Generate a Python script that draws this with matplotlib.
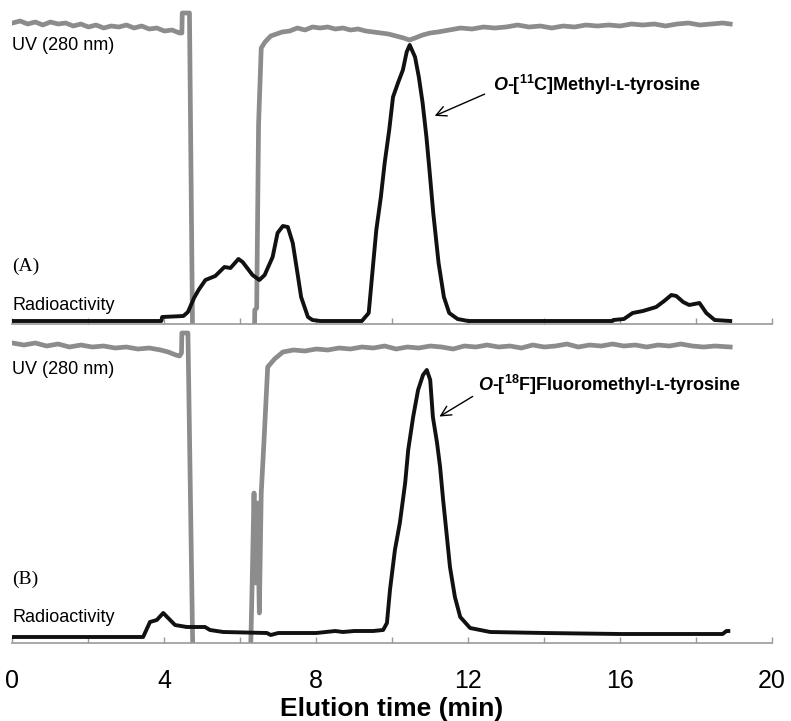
import matplotlib
matplotlib.use("Agg")
import matplotlib.pyplot as plt

plt.rcParams['font.family'] = ['Liberation Sans', 'DejaVu Sans']
plt.rcParams['mathtext.fontset'] = 'custom'
plt.rcParams['mathtext.rm'] = 'Liberation Sans:bold'
plt.rcParams['mathtext.it'] = 'Liberation Sans:bold:italic'
plt.rcParams['mathtext.bf'] = 'Liberation Sans:bold'

# (A) O-[11C]methyl-L-tyrosine run
a_uv_t = [0.0, 0.2, 0.4, 0.6, 0.8, 1.0, 1.2, 1.4, 1.6, 1.8, 2.0, 2.2, 2.4, 2.6, 2.8, 3.0,
          3.2, 3.4, 3.6, 3.8, 4.0, 4.2, 4.4, 4.46, 4.47, 4.66, 4.75,
          6.36, 6.38, 6.43, 6.48, 6.55, 6.65, 6.8, 6.95, 7.1, 7.3, 7.5, 7.7, 7.9, 8.1,
          8.3, 8.5, 8.7, 8.9, 9.1, 9.3, 9.5, 9.7, 9.9, 10.1, 10.3, 10.45, 10.6, 10.8,
          11.0, 11.2, 11.5, 11.8, 12.1, 12.4, 12.7, 13.0, 13.3, 13.6, 13.9, 14.2, 14.5,
          14.8, 15.1, 15.4, 15.7, 16.0, 16.3, 16.6, 16.9, 17.2, 17.5, 17.8, 18.1, 18.4,
          18.7, 18.9]
a_uv = [301, 303, 300, 302, 299, 302, 300, 301, 298, 300, 297, 299, 296, 298, 297, 299,
        296, 298, 295, 296, 293, 294, 291, 291, 311, 311, -40,
        -40, 14, 16, 200, 276, 282, 288, 290, 292, 293, 296, 294, 297, 296,
        297, 295, 296, 294, 295, 293, 292, 291, 290, 288, 286, 284, 286, 289,
        291, 292, 294, 296, 295, 297, 296, 297, 299, 297, 298, 296, 298,
        297, 299, 298, 299, 298, 300, 299, 300, 298, 300, 301, 299, 300,
        301, 300]

a_rad_t = [0.0, 3.92, 3.94, 4.5, 4.62, 4.78, 4.9, 5.08, 5.34, 5.58, 5.74, 5.95, 6.06,
           6.32, 6.5, 6.64, 6.85, 6.98, 7.12, 7.25, 7.38, 7.52, 7.6, 7.78, 7.9, 8.1,
           9.2, 9.38, 9.5, 9.58, 9.7, 9.8, 9.92, 10.02, 10.15, 10.28, 10.38, 10.46,
           10.6, 10.7, 10.8, 10.9, 10.98, 11.08, 11.22, 11.36, 11.5, 11.72, 12.0,
           15.8, 15.82, 16.1, 16.33, 16.6, 16.95, 17.16, 17.35, 17.48, 17.66, 17.82,
           18.09, 18.27, 18.49, 18.9]
a_rad = [3, 3, 7, 8, 12, 26, 34, 44, 48, 57, 56, 65, 62,
         49, 44, 49, 67, 91, 98, 97, 81, 47, 27, 7, 4, 3,
         3, 11, 61, 94, 127, 161, 194, 227, 241, 254, 272, 279,
         267, 247, 221, 187, 154, 111, 61, 27, 11, 5, 3,
         3, 4, 5, 11, 13, 17, 23, 29, 28, 22, 19,
         21, 11, 4, 3]

# (B) O-[18F]fluoromethyl-L-tyrosine run
b_uv_t = [0.0, 0.3, 0.6, 0.9, 1.2, 1.5, 1.8, 2.1, 2.4, 2.7, 3.0, 3.3, 3.6, 3.9, 4.1,
          4.3, 4.4, 4.45, 4.46, 4.62, 4.76,
          6.25, 6.3, 6.36, 6.4, 6.45, 6.5, 6.55, 6.62, 6.72, 6.9, 7.12, 7.4, 7.7, 8.0,
          8.3, 8.6, 8.9, 9.2, 9.5, 9.8, 10.1, 10.4, 10.7, 11.0, 11.3, 11.6, 11.9, 12.2,
          12.5, 12.8, 13.1, 13.4, 13.7, 14.0, 14.3, 14.6, 14.9, 15.2, 15.5, 15.8, 16.1,
          16.4, 16.7, 17.0, 17.3, 17.6, 17.9, 18.2, 18.5, 18.9]
b_uv = [300, 298, 300, 297, 299, 296, 298, 296, 297, 295, 296, 294, 295, 293, 291,
        288, 287, 290, 310, 310, -40,
        -40, 40, 150, 60, 140, 30, 150, 200, 276, 284, 291, 293, 292, 294,
        293, 295, 294, 296, 295, 297, 294, 296, 295, 297, 296, 294, 297, 296,
        298, 296, 297, 295, 298, 296, 297, 299, 296, 298, 297, 299, 297,
        298, 296, 298, 297, 299, 297, 296, 297, 296]

b_rad_t = [0.0, 3.44, 3.62, 3.8, 3.97, 4.15, 4.28, 4.59, 5.07, 5.2, 5.55, 6.7, 6.8, 7.0,
           8.0, 8.5, 8.7, 9.0, 9.5, 9.76, 9.86, 9.94, 10.07, 10.2, 10.34, 10.42, 10.55,
           10.68, 10.81, 10.91, 11.0, 11.07, 11.18, 11.26, 11.34, 11.44, 11.52, 11.65,
           11.79, 12.05, 12.58, 14.0, 16.0, 18.7, 18.8, 18.85]
b_rad = [6, 6, 21, 23, 30, 23, 18, 16, 16, 13, 11, 10, 8, 10,
         10, 12, 11, 12, 12, 13, 20, 53, 93, 120, 160, 193, 226,
         253, 268, 273, 263, 226, 200, 176, 143, 106, 76, 46,
         26, 15, 11, 10, 9, 9, 12, 12]

tick_pos = [0, 2, 4, 6, 8, 10, 12, 14, 16, 18, 20]
tick_lab = ['0', '', '4', '', '8', '', '12', '', '16', '', '20']

W, H = 791, 721
fig = plt.figure(figsize=(W / 100, H / 100), dpi=100)

uv_col = '#8c8c8c'
axis_col = '#9a9a9a'


def setup(ax, ymax, labels):
    ax.set_xlim(0, 20)
    ax.set_ylim(0, ymax)
    for s in ['top', 'left', 'right']:
        ax.spines[s].set_visible(False)
    ax.spines['bottom'].set_color(axis_col)
    ax.spines['bottom'].set_linewidth(1.2)
    ax.set_yticks([])
    ax.set_xticks(tick_pos)
    ax.tick_params(axis='x', direction='in', length=4, color=axis_col, width=1)
    if labels:
        ax.set_xticklabels(tick_lab, fontsize=18)
        ax.tick_params(axis='x', pad=19)
    else:
        ax.set_xticklabels([])


ax1 = fig.add_axes([12.5 / W, 1 - 324 / H, 759.5 / W, 324 / H])
setup(ax1, 324, False)
ax1.plot(a_uv_t, a_uv, color=uv_col, lw=3.4)
ax1.plot(a_rad_t, a_rad, color='#111111', lw=2.8)

ax2 = fig.add_axes([12.5 / W, 1 - 643 / H, 759.5 / W, 313 / H])
setup(ax2, 313, True)
ax2.plot(b_uv_t, b_uv, color=uv_col, lw=3.4)
ax2.plot(b_rad_t, b_rad, color='#111111', lw=2.8)


def px(x, y):
    return x / W, 1 - y / H


fig.text(*px(392, 709), 'Elution time (min)', fontsize=19, fontweight='bold',
         ha='center', va='center')
fig.text(*px(12, 45), 'UV (280 nm)', fontsize=13, va='center')
fig.text(*px(12, 370), 'UV (280 nm)', fontsize=13, va='center')
fig.text(*px(12, 306), 'Radioactivity', fontsize=13, va='center')
fig.text(*px(12, 618), 'Radioactivity', fontsize=13, va='center')
fig.text(*px(12, 266), '(A)', fontsize=14, va='center', family='Liberation Serif')
fig.text(*px(12, 579), '(B)', fontsize=14, va='center', family='Liberation Serif')

lab_font = dict(fontsize=13, fontweight='bold', va='center', ha='left',
                family=['Liberation Sans', 'DejaVu Sans'])
ax1.text(12.66, 239, r'$\mathit{O}$-[$^{11}$C]Methyl-ʟ-tyrosine', **lab_font)
ax1.annotate('', xy=(11.05, 207), xytext=(12.5, 231),
             arrowprops=dict(arrowstyle='->', lw=1, color='black', mutation_scale=18))
ax2.text(12.26, 258, r'$\mathit{O}$-[$^{18}$F]Fluoromethyl-ʟ-tyrosine', **lab_font)
ax2.annotate('', xy=(11.18, 225), xytext=(12.18, 248),
             arrowprops=dict(arrowstyle='->', lw=1, color='black', mutation_scale=18))

fig.savefig('out.png', dpi=100)
